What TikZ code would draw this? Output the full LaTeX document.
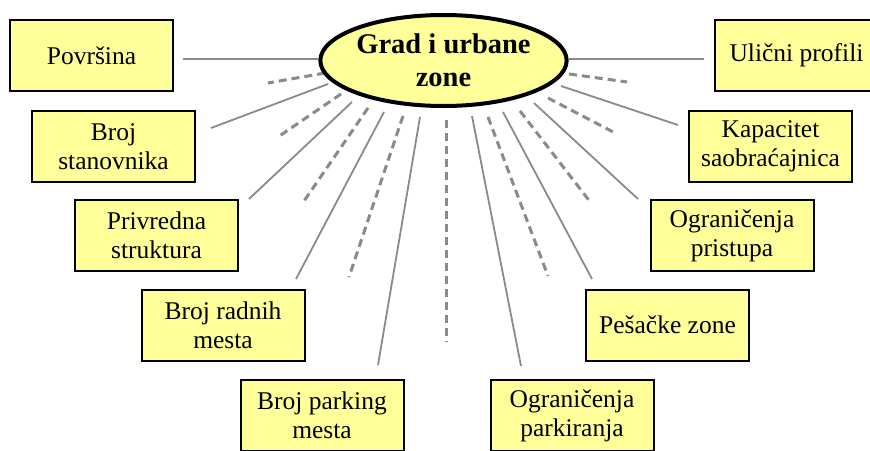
\documentclass[tikz,border=0pt]{standalone}
\usepackage{fontspec}
\setmainfont{Liberation Serif}
\usetikzlibrary{shapes.geometric}
\definecolor{boxyellow}{HTML}{FFFF99}
\definecolor{linegray}{HTML}{8A8A8A}
\tikzset{
  topicbox/.style={draw=black, line width=2pt, fill=boxyellow, minimum width=163pt, minimum height=71pt, inner sep=0pt, align=center, font=\fontsize{25.5}{29}\selectfont},
  hub/.style={ellipse, draw=black, line width=4pt, fill=boxyellow, minimum width=233pt, minimum height=91pt, inner sep=0pt, align=center, font=\fontsize{28.5}{33}\selectfont\bfseries},
  solidlink/.style={draw=linegray, line width=1.8pt},
  dashlink/.style={draw=linegray, line width=3pt, dash pattern=on 8pt off 5pt}
}
\begin{document}
\begin{tikzpicture}[x=1pt,y=-1pt]
\useasboundingbox (0,0) rectangle (870,450);
\clip (0,0) rectangle (870,450);
\fill[white] (0,0) rectangle (870,450);
% connector end points
\coordinate (s1a) at (318,59);  \coordinate (s1b) at (183,59);
\coordinate (s2a) at (328,84);  \coordinate (s2b) at (211,128);
\coordinate (s3a) at (352,102); \coordinate (s3b) at (249,199);
\coordinate (s4a) at (384,112); \coordinate (s4b) at (296,279);
\coordinate (s5a) at (420,117); \coordinate (s5b) at (378,365);
\coordinate (s6a) at (472,116); \coordinate (s6b) at (521,366);
\coordinate (s7a) at (503,112); \coordinate (s7b) at (592,279);
\coordinate (s8a) at (534,103); \coordinate (s8b) at (638,199);
\coordinate (s9a) at (561,86);  \coordinate (s9b) at (678,125);
\coordinate (s10a) at (569,59); \coordinate (s10b) at (704,59);
\coordinate (d1a) at (325,73);  \coordinate (d1b) at (268,83);
\coordinate (d2a) at (341,94);  \coordinate (d2b) at (278,137);
\coordinate (d3a) at (368,108); \coordinate (d3b) at (302,204);
\coordinate (d4a) at (403,116); \coordinate (d4b) at (349,277);
\coordinate (d5a) at (446,120); \coordinate (d5b) at (446,342);
\coordinate (d6a) at (488,117); \coordinate (d6b) at (548,276);
\coordinate (d7a) at (520,111); \coordinate (d7b) at (591,203);
\coordinate (d8a) at (548,98);  \coordinate (d8b) at (617,134);
\coordinate (d9a) at (569,74);  \coordinate (d9b) at (627,82);
% solid connectors
\foreach \i in {1,...,10} { \draw[solidlink] (s\i a) -- (s\i b); }
% dashed connectors
\foreach \i in {1,...,9} { \draw[dashlink] (d\i a) -- (d\i b); }
% hub
\node[hub] (grad) at (443.5,60.5) {Grad i urbane\\zone};
% boxes
\node[topicbox] (povrsina) at (91.5,55.5) {Površina};
\node[topicbox] (stanovnici) at (113.5,146.5) {Broj\\stanovnika};
\node[topicbox] (privreda) at (156.5,235.5) {Privredna\\struktura};
\node[topicbox] (radna) at (223,325) {Broj radnih\\mesta};
\node[topicbox] (parking) at (322,415.5) {Broj parking\\mesta};
\node[topicbox] (profili) at (796.5,55.5) {Ulični profili};
\node[topicbox] (kapacitet) at (770.5,146.5) {Kapacitet\\saobraćajnica};
\node[topicbox] (pristup) at (732,235.5) {Ograničenja\\pristupa};
\node[topicbox] (pesacke) at (667.5,325) {Pešačke zone};
\node[topicbox] (parkiranje) at (572,415.5) {Ograničenja\\parkiranja};
\end{tikzpicture}
\end{document}
